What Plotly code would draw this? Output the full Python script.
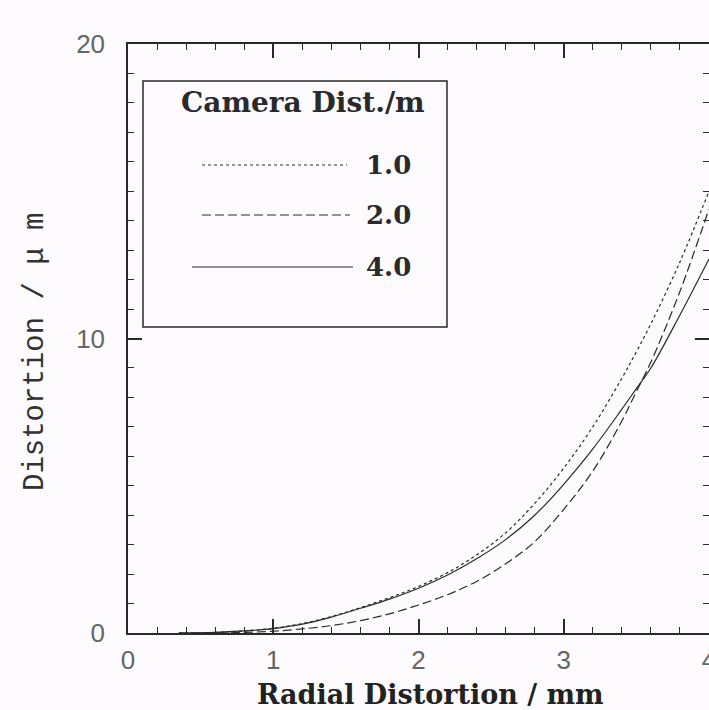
import plotly.graph_objects as go

# ---- data ----
radius_mm = [0.35, 0.6, 0.8, 1.0, 1.2, 1.4, 1.6, 1.8, 2.0, 2.2, 2.4, 2.6, 2.8,
             3.0, 3.2, 3.4, 3.5, 3.6, 3.8, 4.0]
dist_1m = [0.0, 0.02, 0.07, 0.16, 0.32, 0.56, 0.86, 1.2, 1.58, 2.05, 2.65, 3.4, 4.4,
           5.6, 7.0, 8.65, 9.55, 10.5, 12.6, 15.0]
dist_2m = [0.0, 0.0, 0.02, 0.06, 0.14, 0.25, 0.42, 0.65, 0.95, 1.3, 1.75, 2.35, 3.1,
           4.2, 5.5, 7.2, 8.2, 9.2, 11.6, 14.4]
dist_4m = [0.0, 0.02, 0.07, 0.15, 0.3, 0.54, 0.84, 1.15, 1.52, 1.97, 2.52, 3.17, 4.0,
           5.05, 6.25, 7.6, 8.3, 9.0, 10.8, 12.7]
series_names = ["1.0", "2.0", "4.0"]
series_values = [dist_1m, dist_2m, dist_4m]
series_dash = ["3px,3px", "9px,4px", "solid"]
x_ticks = [0, 1, 2, 3, 4]
y_ticks = [0, 10, 20]
legend_title = "Camera Dist./m"
x_title = "Radial Distortion / mm"
y_title = "Distortion / \u03bc m"

W, H = 709, 710
L, R, T, B = 128, 0, 44, 77
BG = "#fdfbfd"
INK = "#2a2a2a"

fig = go.Figure()
for name, vals, dash in zip(series_names, series_values, series_dash):
    fig.add_trace(go.Scatter(x=radius_mm, y=vals, mode="lines", name=name,
                             line=dict(color=INK, width=1.2, dash=dash, shape="spline"),
                             showlegend=False))

pw, ph = W - L - R, H - T - B
def px(x):
    return (x - L) / pw
def py(y):
    return (H - B - y) / ph

shapes = [dict(type="rect", xref="paper", yref="paper", x0=px(143), x1=px(447),
               y0=py(327), y1=py(81), line=dict(color=INK, width=1.5),
               fillcolor=BG, layer="above")]
annotations = [dict(text=legend_title, xref="paper", yref="paper", x=px(303), y=py(103),
                    showarrow=False, xanchor="center", yanchor="middle",
                    font=dict(family="DejaVu Serif", size=28, color="#2a2a2a", weight="bold"))]
sample_rows = [(165, 202, 347), (215, 202, 350), (267, 192, 353)]
for (yy, xa, xb), name, dash in zip(sample_rows, series_names, series_dash):
    shapes.append(dict(type="line", xref="paper", yref="paper", x0=px(xa), x1=px(xb),
                       y0=py(yy), y1=py(yy), line=dict(color=INK, width=1.2, dash=dash),
                       layer="above"))
    annotations.append(dict(text=name, xref="paper", yref="paper", x=px(364), y=py(yy),
                            showarrow=False, xanchor="left", yanchor="middle",
                            font=dict(family="DejaVu Serif", size=26, color="#2a2a2a", weight="bold")))
annotations.append(dict(text=x_title, xref="paper", yref="paper", x=px(430), y=py(695),
                        showarrow=False, xanchor="center", yanchor="middle",
                        font=dict(family="DejaVu Serif", size=27, color="#222", weight="bold")))
annotations.append(dict(text=y_title, xref="paper", yref="paper", x=px(35), y=py(352),
                        showarrow=False, xanchor="center", yanchor="middle", textangle=-90,
                        font=dict(family="Liberation Mono", size=29, color="#333")))

tickfont = dict(family="Liberation Sans", size=26, color="#666")
fig.update_layout(
    width=W, height=H, margin=dict(l=L, r=R, t=T, b=B),
    paper_bgcolor=BG, plot_bgcolor=BG,
    shapes=shapes, annotations=annotations,
    xaxis=dict(range=[0, 4], tickvals=x_ticks, ticks="inside", ticklen=14, tickwidth=1.5,
               tickcolor=INK, showline=True, linecolor=INK, linewidth=1.5, mirror="ticks",
               showgrid=False, zeroline=False, tickfont=tickfont, ticklabelstandoff=3,
               ticklabeloverflow="allow", automargin=False,
               minor=dict(dtick=0.2, ticks="inside", ticklen=6, tickcolor=INK, tickwidth=1.2)),
    yaxis=dict(range=[0, 20], tickvals=y_ticks, ticks="inside", ticklen=14, tickwidth=1.5,
               tickcolor=INK, showline=True, linecolor=INK, linewidth=1.5, mirror="ticks",
               showgrid=False, zeroline=False, tickfont=tickfont, ticklabelstandoff=16,
               ticklabeloverflow="allow", automargin=False,
               minor=dict(dtick=1, ticks="inside", ticklen=6, tickcolor=INK, tickwidth=1.2)),
)
fig.write_html("out.html")
